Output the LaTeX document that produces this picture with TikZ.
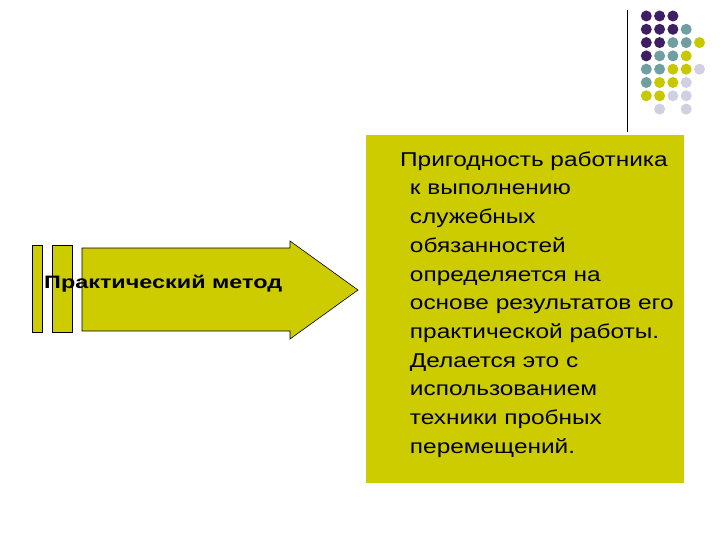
\documentclass[tikz,border=0pt]{standalone}
\usepackage{fontspec}
\usepackage{graphicx}
\setmainfont{Liberation Sans}
\definecolor{olive}{HTML}{CCCC00}
\definecolor{pu}{HTML}{3F1F63}
\definecolor{te}{HTML}{6F9FA0}
\definecolor{ye}{HTML}{C8C800}
\definecolor{li}{HTML}{D0D0E2}
\begin{document}
\begin{tikzpicture}[x=1pt,y=-1pt,
  shp/.style={fill=olive,draw=black,line width=0.6pt},
  dot/.style={circle,inner sep=0pt,minimum size=11pt}]
\useasboundingbox (0,0) rectangle (720,540);
% vertical line
\draw[line width=0.8pt] (627,10) -- (627,132);
% dots
\foreach \r/\cols in {1/{1/pu,2/pu,3/pu},2/{1/pu,2/pu,3/pu,4/te},3/{1/pu,2/pu,3/te,4/te,5/ye},4/{1/pu,2/te,3/te,4/ye},5/{1/te,2/te,3/ye,4/ye,5/li},6/{1/te,2/ye,3/ye,4/li},7/{1/ye,2/ye,3/li,4/li},8/{2/li,4/li}}{
  \foreach \c/\col in \cols {
    \node[dot,fill=\col] (d\r\c) at ({633+13.3*\c},{2.7+13.3*\r}) {};
  }}
% text box
\node[fill=olive,minimum width=318pt,minimum height=348pt,inner sep=0pt,anchor=north west] (box) at (366,135) {};
\node[anchor=north west,inner sep=0pt] (txt) at (400,146)
 {\scalebox{1.22}[1]{\fontsize{20}{28.7}\selectfont\begin{tabular}{@{}l@{}}
 Пригодность работника\\
 \hspace*{8pt}к выполнению\\
 \hspace*{8pt}служебных\\
 \hspace*{8pt}обязанностей\\
 \hspace*{8pt}определяется на\\
 \hspace*{8pt}основе результатов его\\
 \hspace*{8pt}практической работы.\\
 \hspace*{8pt}Делается это с\\
 \hspace*{8pt}использованием\\
 \hspace*{8pt}техники пробных\\
 \hspace*{8pt}перемещений.\end{tabular}}};
% arrow
\draw[shp] (32,245) rectangle (42,332);
\draw[shp] (52,245) rectangle (72,332);
\draw[shp] (82,248) -- (290,248) -- (290,241) -- (358,290) -- (290,339) -- (290,331) -- (82,331) -- cycle;
\node[anchor=west,inner sep=0pt] (lbl) at (44,284) {\scalebox{1.3}[1]{\bfseries\fontsize{18}{20}\selectfont Практический метод}};
\end{tikzpicture}
\end{document}
